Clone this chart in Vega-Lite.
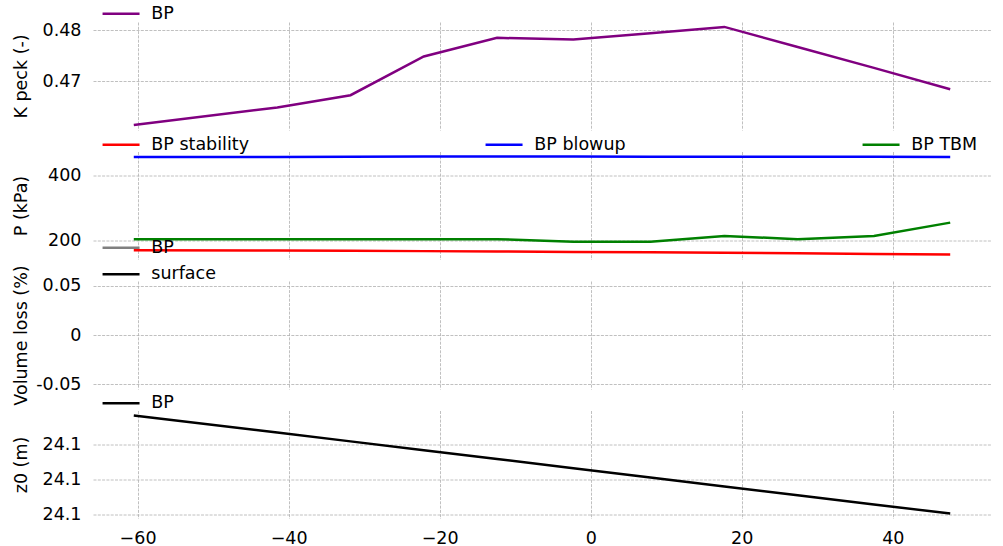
{
  "$schema": "https://vega.github.io/schema/vega-lite/v6.json",
  "padding": {"left": 12, "top": 5, "right": 5, "bottom": 0},
  "spacing": 21.5,
  "bounds": "flush",
  "datasets": {
    "kpeck": [
      {"x": -60.5, "k": 0.46131, "series": "BP"},
      {"x": -41.5, "k": 0.46478, "series": "BP"},
      {"x": -31.8, "k": 0.46720, "series": "BP"},
      {"x": -22.1, "k": 0.47484, "series": "BP"},
      {"x": -12.4, "k": 0.47851, "series": "BP"},
      {"x": -2.3, "k": 0.47818, "series": "BP"},
      {"x": 7.9, "k": 0.47941, "series": "BP"},
      {"x": 17.7, "k": 0.48067, "series": "BP"},
      {"x": 27.4, "k": 0.47671, "series": "BP"},
      {"x": 37.5, "k": 0.47259, "series": "BP"},
      {"x": 47.6, "k": 0.46837, "series": "BP"}
    ],
    "pressure": [
      {"x": -60.5, "p": 169.0, "series": "BP stability"},
      {"x": -41.5, "p": 168.0, "series": "BP stability"},
      {"x": -31.8, "p": 167.2, "series": "BP stability"},
      {"x": -22.1, "p": 166.2, "series": "BP stability"},
      {"x": -12.4, "p": 165.0, "series": "BP stability"},
      {"x": -2.3, "p": 163.8, "series": "BP stability"},
      {"x": 7.9, "p": 162.5, "series": "BP stability"},
      {"x": 17.7, "p": 161.3, "series": "BP stability"},
      {"x": 27.4, "p": 159.6, "series": "BP stability"},
      {"x": 37.5, "p": 157.6, "series": "BP stability"},
      {"x": 47.6, "p": 155.5, "series": "BP stability"},
      {"x": -60.5, "p": 456.0, "series": "BP blowup"},
      {"x": -41.5, "p": 456.5, "series": "BP blowup"},
      {"x": -31.8, "p": 457.0, "series": "BP blowup"},
      {"x": -22.1, "p": 457.5, "series": "BP blowup"},
      {"x": -12.4, "p": 458.0, "series": "BP blowup"},
      {"x": -2.3, "p": 457.6, "series": "BP blowup"},
      {"x": 7.9, "p": 457.2, "series": "BP blowup"},
      {"x": 17.7, "p": 457.0, "series": "BP blowup"},
      {"x": 27.4, "p": 457.0, "series": "BP blowup"},
      {"x": 37.5, "p": 456.8, "series": "BP blowup"},
      {"x": 47.6, "p": 456.5, "series": "BP blowup"},
      {"x": -60.5, "p": 203.0, "series": "BP TBM"},
      {"x": -41.5, "p": 203.0, "series": "BP TBM"},
      {"x": -31.8, "p": 203.0, "series": "BP TBM"},
      {"x": -22.1, "p": 203.0, "series": "BP TBM"},
      {"x": -12.4, "p": 203.0, "series": "BP TBM"},
      {"x": -2.3, "p": 195.0, "series": "BP TBM"},
      {"x": 7.9, "p": 195.0, "series": "BP TBM"},
      {"x": 17.7, "p": 213.0, "series": "BP TBM"},
      {"x": 27.4, "p": 203.0, "series": "BP TBM"},
      {"x": 37.5, "p": 213.0, "series": "BP TBM"},
      {"x": 47.6, "p": 254.0, "series": "BP TBM"}
    ],
    "vloss": [
      {"x": null, "v": null, "series": "BP"},
      {"x": null, "v": null, "series": "surface"}
    ],
    "z0": [
      {"x": -60.5, "z": 24.100563, "series": "BP"},
      {"x": -41.5, "z": 24.100466, "series": "BP"},
      {"x": -31.8, "z": 24.100416, "series": "BP"},
      {"x": -22.1, "z": 24.100366, "series": "BP"},
      {"x": -12.4, "z": 24.100316, "series": "BP"},
      {"x": -2.3, "z": 24.100264, "series": "BP"},
      {"x": 7.9, "z": 24.100211, "series": "BP"},
      {"x": 17.7, "z": 24.100161, "series": "BP"},
      {"x": 27.4, "z": 24.100111, "series": "BP"},
      {"x": 37.5, "z": 24.100059, "series": "BP"},
      {"x": 47.6, "z": 24.100007, "series": "BP"}
    ]
  },
  "vconcat": [
    {
      "width": 898, "height": 108,
      "data": {"name": "kpeck"},
      "mark": {"type": "line", "strokeWidth": 2.5},
      "encoding": {
        "x": {"field": "x", "type": "quantitative", "scale": {"domain": [-65.9, 53.0], "nice": false, "zero": false},
              "axis": {"labels": false, "title": null, "values": [-60, -40, -20, 0, 20, 40]}},
        "y": {"field": "k", "type": "quantitative", "scale": {"domain": [0.46034, 0.48164], "nice": false, "zero": false},
              "axis": {"values": [0.47, 0.48], "format": ".2f", "title": "K peck (-)"}},
        "color": {"field": "series", "type": "nominal", "scale": {"domain": ["BP"], "range": ["#800080"]},
                  "legend": {"orient": "none", "legendX": 19.3, "legendY": -17, "title": null}}
      }
    },
    {
      "width": 898, "height": 108,
      "data": {"name": "pressure"},
      "mark": {"type": "line", "strokeWidth": 2.5},
      "encoding": {
        "x": {"field": "x", "type": "quantitative", "scale": {"domain": [-65.9, 53.0], "nice": false, "zero": false},
              "axis": {"labels": false, "title": null, "values": [-60, -40, -20, 0, 20, 40]}},
        "y": {"field": "p", "type": "quantitative", "scale": {"domain": [140.4, 473.1], "nice": false, "zero": false},
              "axis": {"values": [200, 400], "format": "d", "title": "P (kPa)"}},
        "color": {"field": "series", "type": "nominal", "sort": null,
                  "scale": {"domain": ["BP stability", "BP blowup", "BP TBM"], "range": ["#ff0000", "#0000ff", "#008000"]},
                  "legend": {"orient": "none", "legendX": 19.3, "legendY": -16, "title": null, "direction": "horizontal", "columns": 3, "columnPadding": 231}}
      }
    },
    {
      "width": 898, "height": 108,
      "data": {"name": "vloss"},
      "mark": {"type": "line", "strokeWidth": 2.5},
      "encoding": {
        "x": {"field": "x", "type": "quantitative", "scale": {"domain": [-65.9, 53.0], "nice": false, "zero": false},
              "axis": {"labels": false, "title": null, "values": [-60, -40, -20, 0, 20, 40]}},
        "y": {"field": "v", "type": "quantitative", "scale": {"domain": [-0.055, 0.055], "nice": false, "zero": false},
              "axis": {"values": [-0.05, 0, 0.05], "title": "Volume loss (%)",
                       "labelExpr": "datum.value == 0 ? '0' : replace(format(datum.value, '.2f'), '\u2212', '-')"}},
        "color": {"field": "series", "type": "nominal", "scale": {"domain": ["BP", "surface"], "range": ["#808080", "#000000"]},
                  "legend": {"orient": "none", "legendX": 19.3, "legendY": -42, "title": null, "rowPadding": 7.5}}
      }
    },
    {
      "width": 898, "height": 108,
      "data": {"name": "z0"},
      "mark": {"type": "line", "strokeWidth": 2.5},
      "encoding": {
        "x": {"field": "x", "type": "quantitative", "scale": {"domain": [-65.9, 53.0], "nice": false, "zero": false},
              "axis": {"title": null, "values": [-60, -40, -20, 0, 20, 40], "labelPadding": 10.5}},
        "y": {"field": "z", "type": "quantitative", "scale": {"domain": [24.0999792, 24.1005908], "nice": false, "zero": false},
              "axis": {"values": [24.1, 24.1002, 24.1004], "format": ".1f", "title": "z0 (m)"}},
        "color": {"field": "series", "type": "nominal", "scale": {"domain": ["BP"], "range": ["#000000"]},
                  "legend": {"orient": "none", "legendX": 19.3, "legendY": -16, "title": null}}
      }
    }
  ],
  "resolve": {"scale": {"color": "independent", "y": "independent"}, "legend": {"color": "independent"}},
  "config": {
    "font": "DejaVu Sans",
    "view": {"stroke": null},
    "axis": {
      "domain": false, "ticks": false,
      "labelFontSize": 17.5, "labelColor": "#000000", "labelPadding": 12,
      "titleFontSize": 17.5, "titleFontWeight": "normal", "titleColor": "#000000",
      "titleX": -72, "titleBaseline": "middle", "titleAlign": "center",
      "gridColor": "#b0b0b0", "gridDash": [3, 1.3], "gridWidth": 0.8
    },
    "legend": {
      "symbolType": "M-3,0H3", "symbolSize": 152, "symbolStrokeWidth": 2.5,
      "labelFontSize": 17.5, "labelColor": "#000000", "labelOffset": 21.5, "labelFont": "DejaVu Sans"
    }
  }
}
